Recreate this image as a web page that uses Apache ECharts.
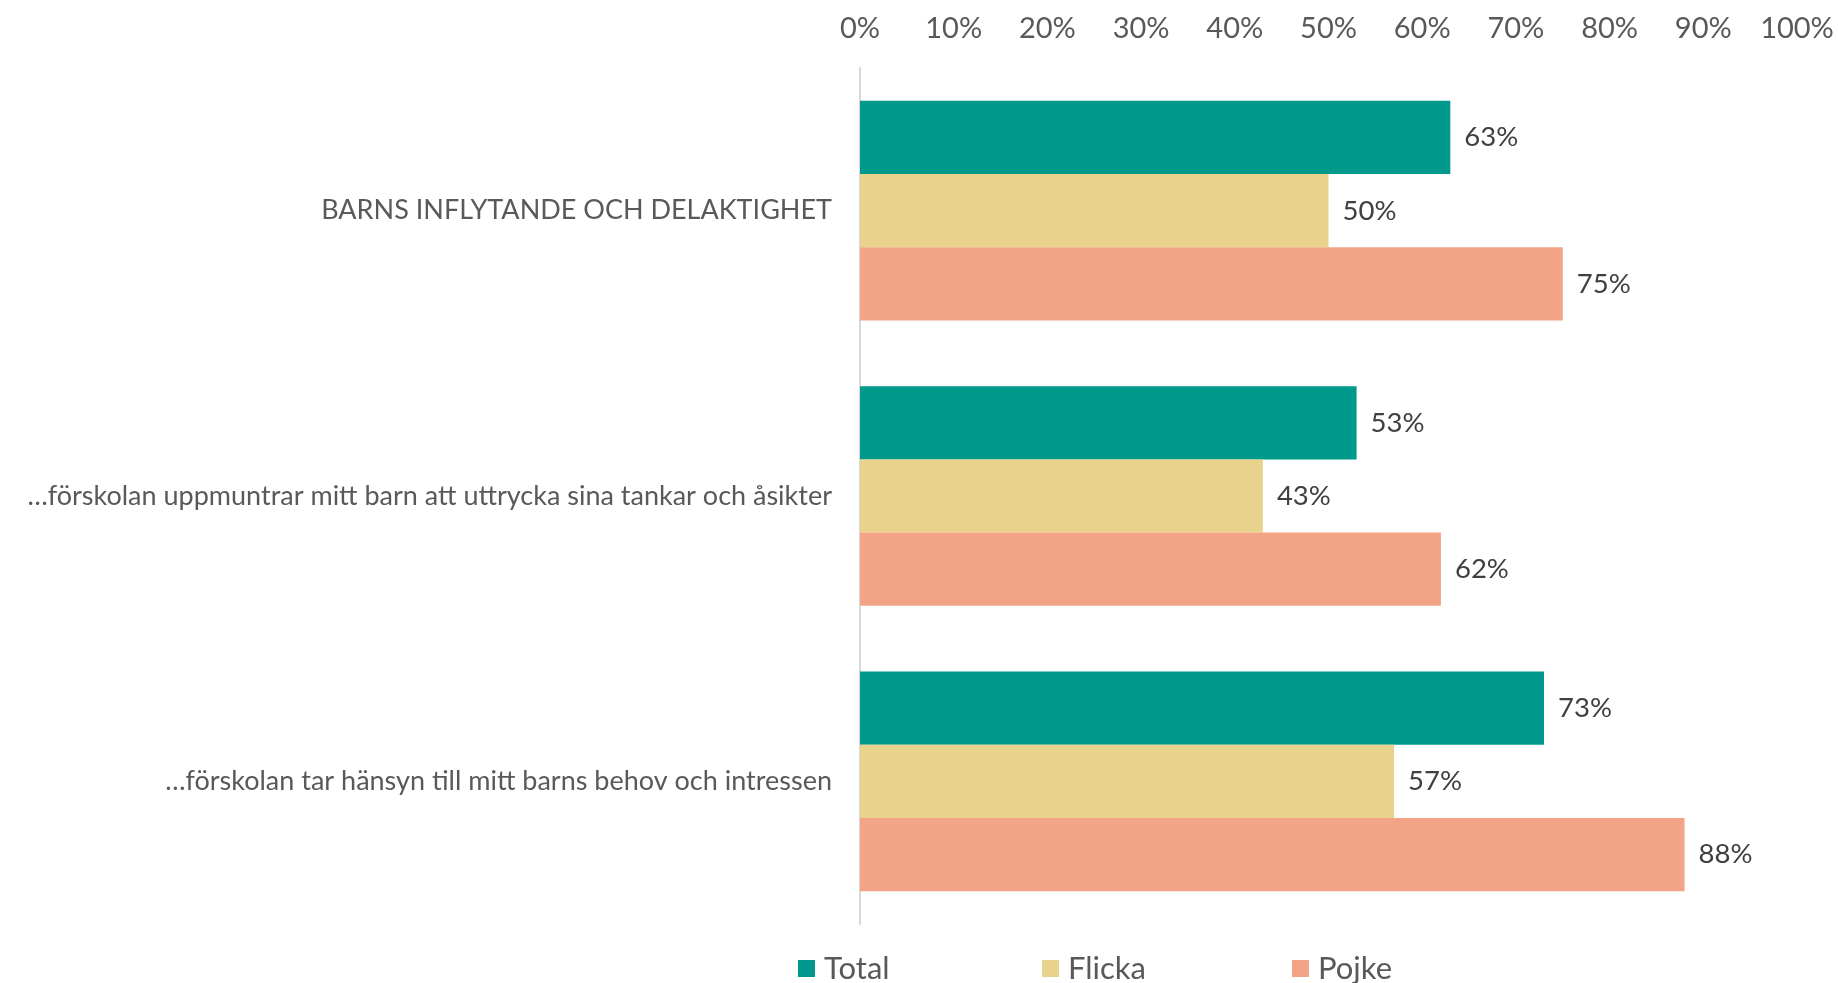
<!DOCTYPE html>
<html>
<head>
<meta charset="utf-8">
<script src="https://cdn.jsdelivr.net/npm/echarts@6/dist/echarts.min.js"></script>
<style>html,body{margin:0;padding:0;background:#fff;}#c{width:1838px;height:983px;}</style>
</head>
<body>
<div id="c"></div>
<script>
const categories = [
  'BARNS INFLYTANDE OCH DELAKTIGHET',
  '…förskolan uppmuntrar mitt barn att uttrycka sina tankar och åsikter',
  '…förskolan tar hänsyn till mitt barns behov och intressen'
];
const seriesNames = ['Total', 'Flicka', 'Pojke'];
const totalValues = [63, 53, 73];
const flickaValues = [50, 43, 57];
const pojkeValues = [75, 62, 88];
const tickLabels = ['0%','10%','20%','30%','40%','50%','60%','70%','80%','90%','100%'];
const colors = ['#02998D', '#E9D28B', '#F4A486'];
const FONT = "Lato, sans-serif";

const chart = echarts.init(document.getElementById('c'));
const values = [totalValues, flickaValues, pojkeValues];
const legendLefts = [798, 1042, 1292];

chart.setOption({
  animation: false,
  textStyle: { fontFamily: FONT },
  grid: { left: 860, right: 41, top: 68, bottom: 59, containLabel: false, outerBoundsMode: 'none' },
  legend: seriesNames.map((n, i) => ({
    data: [n], left: legendLefts[i], top: 953, padding: 0,
    itemWidth: 17, itemHeight: 17, itemGap: 9, icon: 'rect',
    textStyle: { fontSize: 31, color: '#595959', fontFamily: FONT, padding: [0,0,0,4] }
  })),
  xAxis: {
    type: 'value', position: 'top', min: 0, max: 100, interval: 10,
    axisLine: { show: false }, axisTick: { show: false }, splitLine: { show: false },
    axisLabel: { fontSize: 29, color: '#595959', margin: 25, fontFamily: FONT,
      formatter: v => tickLabels[Math.round(v / 10)] }
  },
  yAxis: {
    type: 'category', data: categories, inverse: true,
    axisLine: { show: true, lineStyle: { color: '#D9D9D9', width: 2 } },
    axisTick: { show: false },
    axisLabel: { fontSize: 27, color: '#595959', margin: 28, fontFamily: FONT,
      padding: [6, 0, 0, 0] }
  },
  series: seriesNames.map((n, i) => ({
    name: n, type: 'bar', data: values[i],
    barGap: '0%', barCategoryGap: '23%',
    itemStyle: { color: colors[i] },
    label: { show: true, position: 'right', distance: 14, fontSize: 27.5, color: '#404040',
      fontFamily: FONT, padding: [8, 0, 0, 0], formatter: p => p.value + '%' }
  }))
});
</script>
</body>
</html>
